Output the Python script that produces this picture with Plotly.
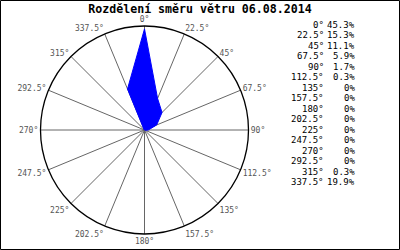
import plotly.graph_objects as go

title = "Rozdělení směru větru 06.08.2014"
directions = [0, 22.5, 45, 67.5, 90, 112.5, 135, 157.5, 180, 202.5, 225, 247.5, 270, 292.5, 315, 337.5]
percent = [45.3, 15.3, 11.1, 5.9, 1.7, 0.3, 0, 0, 0, 0, 0, 0, 0, 0, 0.3, 19.9]

W, H = 400, 250
cx, cy, R = 144.5, 130, 104

fig = go.Figure()
fig.add_trace(go.Scatterpolar(
    r=percent + [percent[0]],
    theta=directions + [directions[0]],
    mode="lines",
    fill="toself",
    fillcolor="#0000FF",
    line=dict(color="#0000FF", width=1),
    hoverinfo="skip",
))

fig.update_layout(
    width=W, height=H,
    margin=dict(l=0, r=0, t=0, b=0),
    paper_bgcolor="white",
    showlegend=False,
    title=dict(text="<b>" + title + "</b>", x=0.5, xanchor="center", y=1 - 9 / H, yanchor="middle",
               font=dict(family="DejaVu Sans Mono", size=11.6, color="black")),
    polar=dict(
        domain=dict(x=[(cx - R) / W, (cx + R) / W], y=[(H - cy - R) / H, (H - cy + R) / H]),
        bgcolor="white",
        radialaxis=dict(visible=False, range=[0, 46.6]),
        angularaxis=dict(
            direction="clockwise", rotation=90,
            tickmode="array", tickvals=directions,
            ticktext=[f"{d:g}°" for d in directions],
            ticks="",
            showline=True, linecolor="black", linewidth=1.3,
            showgrid=True, gridcolor="#666666", gridwidth=1,
            tickfont=dict(family="DejaVu Sans Mono", size=8, color="#555555"),
        ),
    ),
)

y0, dy = 25, 10.47
for i, (d, p) in enumerate(zip(directions, percent)):
    yy = 1 - (y0 + i * dy) / H
    fig.add_annotation(x=326 / W, y=yy, xref="paper", yref="paper", text=f"{d:g}°",
                       showarrow=False, xanchor="right", yanchor="middle",
                       font=dict(family="DejaVu Sans Mono", size=9, color="black"))
    fig.add_annotation(x=357 / W, y=yy, xref="paper", yref="paper", text=f"{p:g}%",
                       showarrow=False, xanchor="right", yanchor="middle",
                       font=dict(family="DejaVu Sans Mono", size=9, color="black"))

fig.add_shape(type="rect", xref="paper", yref="paper",
              x0=0.5 / W, x1=1 - 0.5 / W, y0=0.5 / H, y1=1 - 0.5 / H,
              line=dict(color="black", width=1))

fig.write_html("out.html")
